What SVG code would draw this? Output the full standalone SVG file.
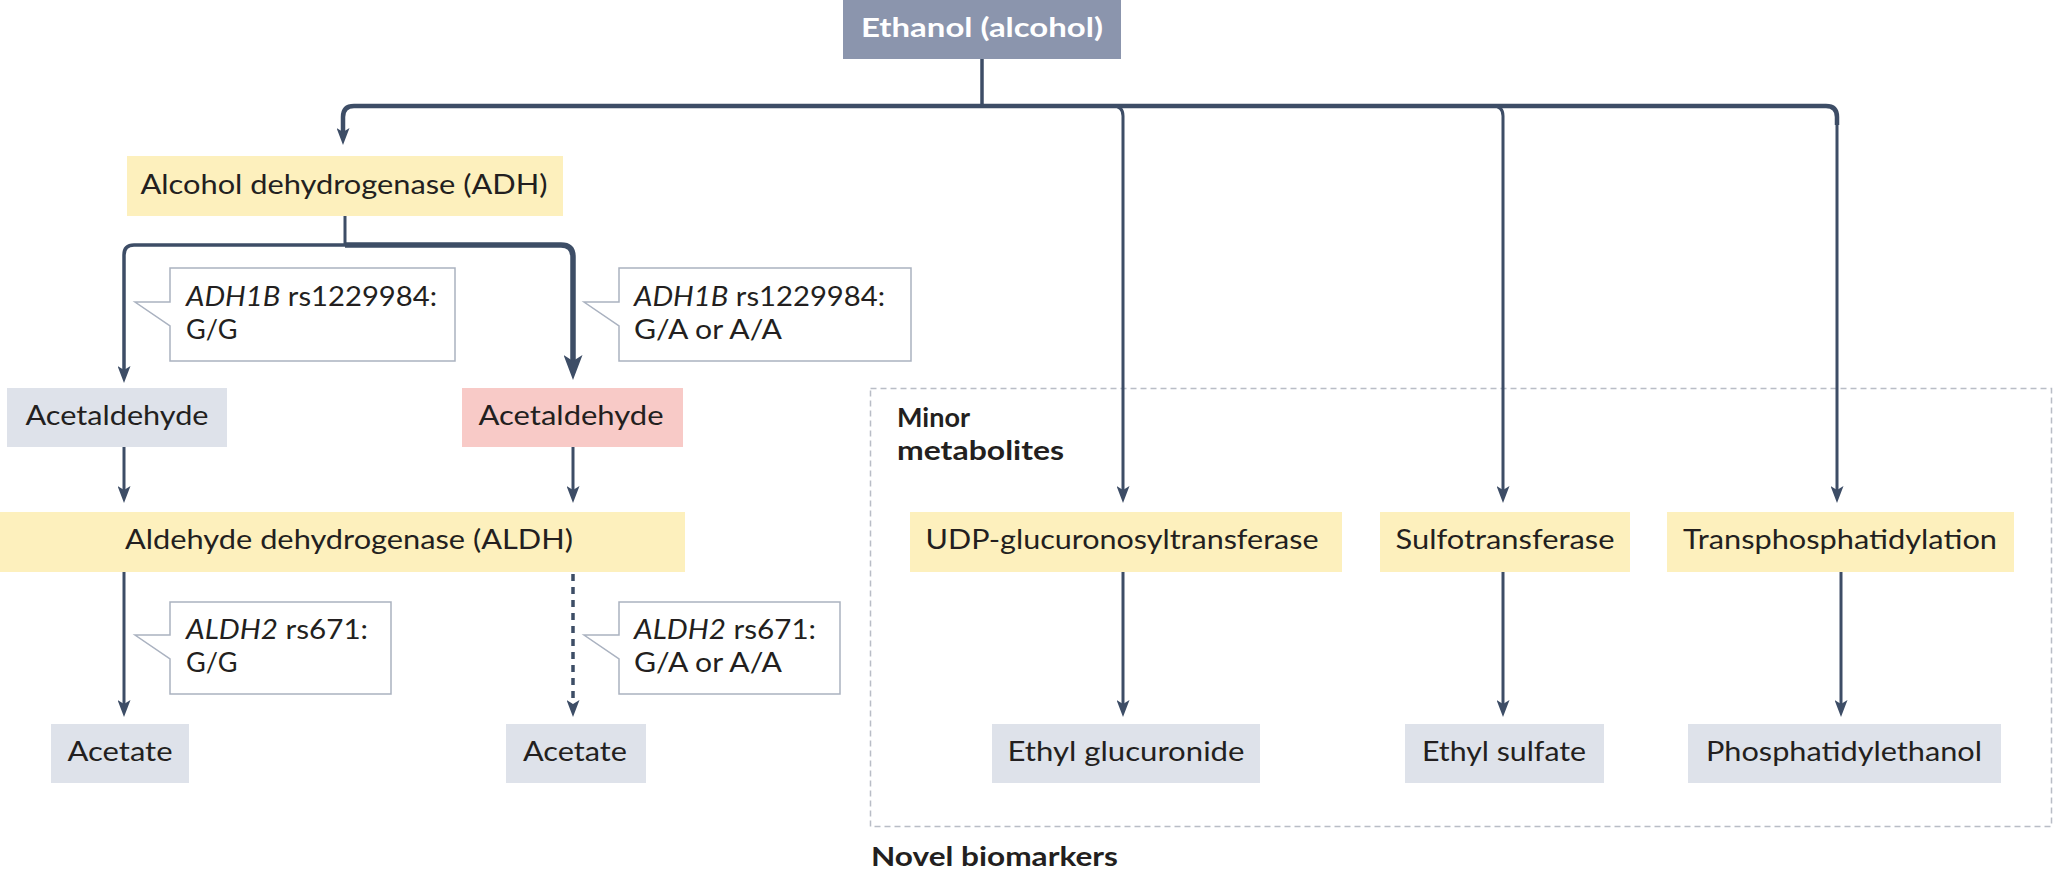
<svg xmlns="http://www.w3.org/2000/svg" width="2054" height="871" viewBox="0 0 2054 871">
<style>
text{font-family:Lato,"Noto Sans","Liberation Sans",sans-serif;font-size:27px;fill:#231f20}
.c{text-anchor:middle}
.b{font-weight:bold}
.w{fill:#ffffff}
.i{font-style:italic}
.y{fill:#fdf0bd}
.g{fill:#dee2ea}
.p{fill:#f8cac7}
.co{fill:#ffffff;stroke:#aab2c0;stroke-width:1.5}
.ln{fill:none;stroke:#3d4d66;stroke-width:3}
</style>
<defs>
<marker id="a" markerUnits="userSpaceOnUse" viewBox="0 0 17 13" refX="7" refY="6.5" markerWidth="17" markerHeight="13" orient="auto">
<path d="M0,0 L17,6.5 L0,13 L4,6.5 Z" fill="#3d4d66"/>
</marker>
<marker id="A" markerUnits="userSpaceOnUse" viewBox="0 0 25 19" refX="10" refY="9.5" markerWidth="25" markerHeight="19" orient="auto">
<path d="M0,0 L25,9.5 L0,19 L6,9.5 Z" fill="#3d4d66"/>
</marker>
</defs>

<g id="region">
<rect x="870.5" y="388.5" width="1181" height="438" fill="none" stroke="#b9bdc6" stroke-width="1.5" stroke-dasharray="6 4"/>
<text class="b" x="897" y="427">Minor</text>
<text class="b" x="897" y="460" textLength="167" lengthAdjust="spacingAndGlyphs">metabolites</text>
<text class="b" x="871" y="866" textLength="247" lengthAdjust="spacingAndGlyphs">Novel biomarkers</text>
</g>

<g id="connectors">
<path class="ln" d="M982,59 V106" style="stroke-width:3.5"/>
<path class="ln" d="M343,135 V117 Q343,106 354,106 H1826 Q1837,106 1837,117 V125" style="stroke-width:4.5" marker-start="none"/>
<path class="ln" d="M343,125 V135" style="stroke-width:4" marker-end="url(#a)"/>
<path class="ln" d="M1113,106 Q1123,106 1123,116 V493" marker-end="url(#a)"/>
<path class="ln" d="M1493,106 Q1503,106 1503,116 V493" marker-end="url(#a)"/>
<path class="ln" d="M1837,120 V493" marker-end="url(#a)"/>
<path class="ln" d="M345,216 V246"/>
<path class="ln" d="M346,245 H134 Q124,245 124,255 V373" style="stroke-width:3.5" marker-end="url(#a)"/>
<path class="ln" d="M345,245 H561 Q573,245 573,257 V365" style="stroke-width:5.5" marker-end="url(#A)"/>
<path class="ln" d="M124,447 V493" marker-end="url(#a)"/>
<path class="ln" d="M573,447 V493" marker-end="url(#a)"/>
<path class="ln" d="M124,572 V707" marker-end="url(#a)"/>
<path class="ln" d="M573,574 V707" style="stroke-width:3.5;stroke-dasharray:7 6" marker-end="url(#a)"/>
<path class="ln" d="M1123,572 V707" marker-end="url(#a)"/>
<path class="ln" d="M1503,572 V707" marker-end="url(#a)"/>
<path class="ln" d="M1841,572 V707" marker-end="url(#a)"/>
</g>

<g id="ethanol">
<rect x="843" y="0" width="278" height="59" fill="#8b95ad"/>
<text class="c b w" x="982" y="37" textLength="242" lengthAdjust="spacingAndGlyphs">Ethanol (alcohol)</text>
</g>
<g id="adh">
<rect class="y" x="127" y="156" width="436" height="60"/>
<text class="c" x="344" y="194" textLength="407" lengthAdjust="spacingAndGlyphs">Alcohol dehydrogenase (ADH)</text>
</g>
<g id="callout-adh-gg">
<path class="co" d="M170,302 V268 H455 V361 H170 V326 L135,302 Z"/>
<text x="186" y="306" textLength="251" lengthAdjust="spacingAndGlyphs"><tspan class="i">ADH1B</tspan> rs1229984:</text>
<text x="186" y="339">G/G</text>
</g>
<g id="callout-adh-ga">
<path class="co" d="M619,302 V268 H911 V361 H619 V326 L584,302 Z"/>
<text x="634" y="306" textLength="251" lengthAdjust="spacingAndGlyphs"><tspan class="i">ADH1B</tspan> rs1229984:</text>
<text x="634" y="339" textLength="148" lengthAdjust="spacingAndGlyphs">G/A or A/A</text>
</g>
<g id="acetaldehyde-1">
<rect class="g" x="7" y="388" width="220" height="59"/>
<text class="c" x="117" y="425" textLength="183" lengthAdjust="spacingAndGlyphs">Acetaldehyde</text>
</g>
<g id="acetaldehyde-2">
<rect class="p" x="462" y="388" width="221" height="59"/>
<text class="c" x="571" y="425" textLength="185" lengthAdjust="spacingAndGlyphs">Acetaldehyde</text>
</g>
<g id="aldh">
<rect class="y" x="0" y="512" width="685" height="60"/>
<text class="c" x="349" y="549" textLength="448" lengthAdjust="spacingAndGlyphs">Aldehyde dehydrogenase (ALDH)</text>
</g>
<g id="callout-aldh-gg">
<path class="co" d="M170,635 V602 H391 V694 H170 V659 L135,635 Z"/>
<text x="186" y="639" textLength="182" lengthAdjust="spacingAndGlyphs"><tspan class="i">ALDH2</tspan> rs671:</text>
<text x="186" y="672">G/G</text>
</g>
<g id="callout-aldh-ga">
<path class="co" d="M619,635 V602 H840 V694 H619 V659 L584,635 Z"/>
<text x="634" y="639" textLength="182" lengthAdjust="spacingAndGlyphs"><tspan class="i">ALDH2</tspan> rs671:</text>
<text x="634" y="672" textLength="148" lengthAdjust="spacingAndGlyphs">G/A or A/A</text>
</g>
<g id="acetate-1">
<rect class="g" x="51" y="724" width="138" height="59"/>
<text class="c" x="120" y="761" textLength="105" lengthAdjust="spacingAndGlyphs">Acetate</text>
</g>
<g id="acetate-2">
<rect class="g" x="506" y="724" width="140" height="59"/>
<text class="c" x="575" y="761" textLength="104" lengthAdjust="spacingAndGlyphs">Acetate</text>
</g>
<g id="udp">
<rect class="y" x="910" y="512" width="432" height="60"/>
<text class="c" x="1122" y="549" textLength="393" lengthAdjust="spacingAndGlyphs">UDP-glucuronosyltransferase</text>
</g>
<g id="sulfo">
<rect class="y" x="1380" y="512" width="250" height="60"/>
<text class="c" x="1505" y="549" textLength="219" lengthAdjust="spacingAndGlyphs">Sulfotransferase</text>
</g>
<g id="transphos">
<rect class="y" x="1667" y="512" width="347" height="60"/>
<text class="c" x="1840" y="549" textLength="314" lengthAdjust="spacingAndGlyphs">Transphosphatidylation</text>
</g>
<g id="ethyl-glucuronide">
<rect class="g" x="992" y="724" width="268" height="59"/>
<text class="c" x="1126" y="761" textLength="237" lengthAdjust="spacingAndGlyphs">Ethyl glucuronide</text>
</g>
<g id="ethyl-sulfate">
<rect class="g" x="1405" y="724" width="199" height="59"/>
<text class="c" x="1504" y="761" textLength="164" lengthAdjust="spacingAndGlyphs">Ethyl sulfate</text>
</g>
<g id="peth">
<rect class="g" x="1688" y="724" width="313" height="59"/>
<text class="c" x="1844" y="761" textLength="276" lengthAdjust="spacingAndGlyphs">Phosphatidylethanol</text>
</g>
</svg>
